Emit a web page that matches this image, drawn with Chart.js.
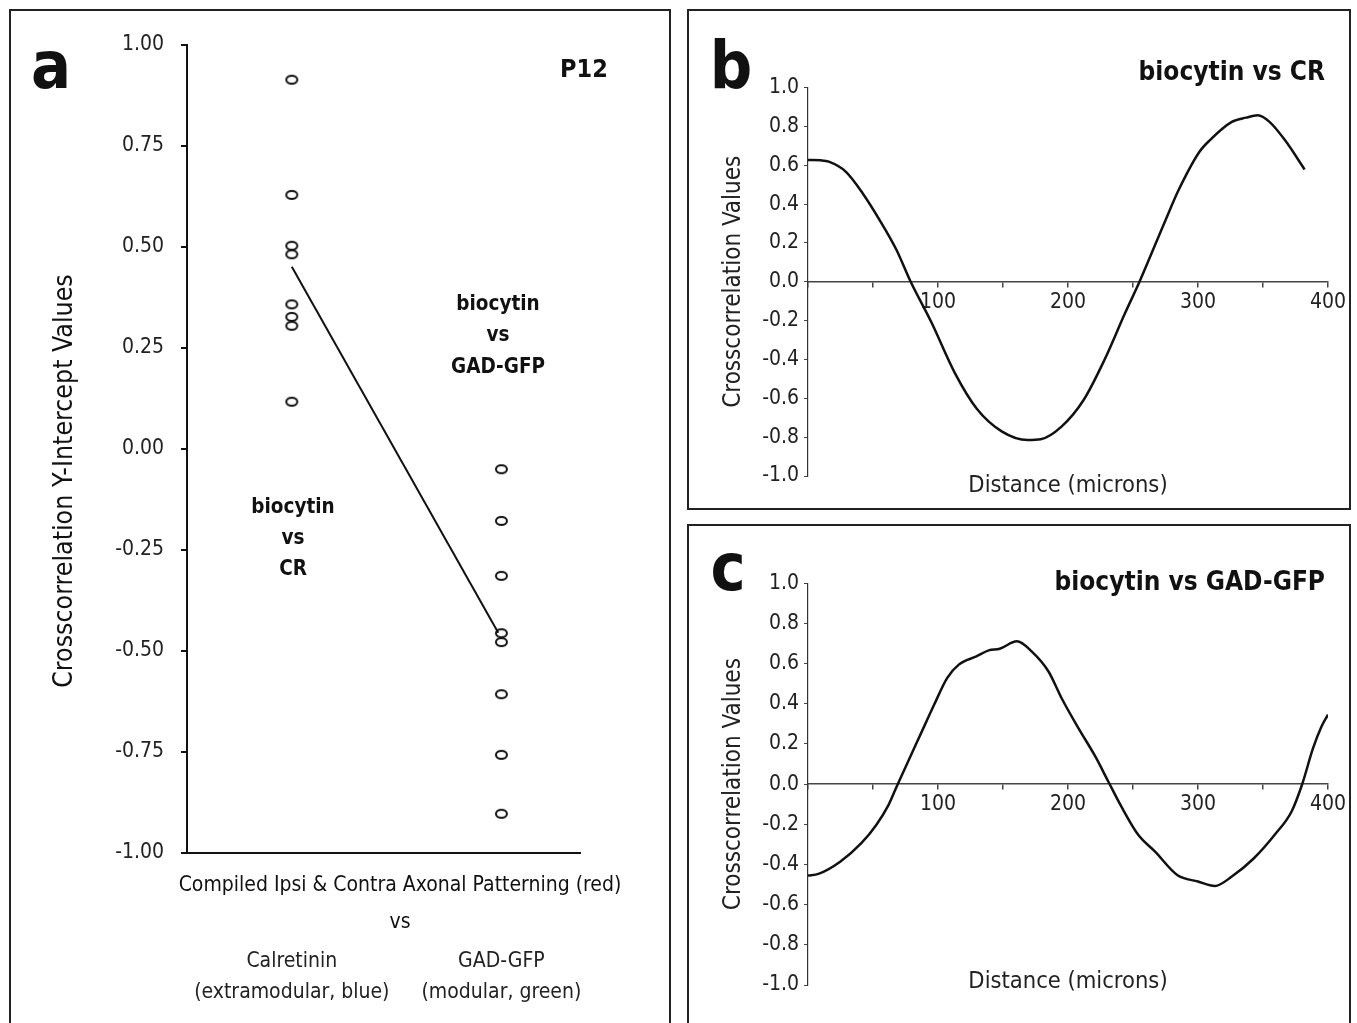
<!DOCTYPE html>
<html><head><meta charset="utf-8">
<script src="https://cdn.jsdelivr.net/npm/chart.js@4.4.0/dist/chart.umd.min.js"></script>
<style>
html,body{margin:0;padding:0;background:#fff;width:1357px;height:1023px;overflow:hidden;position:relative;}
.box{position:absolute;border:2px solid #222;box-sizing:border-box;}
canvas{position:absolute;}
</style></head><body>
<div class="box" style="left:9px;top:9px;width:662px;height:1040px"></div>
<div class="box" style="left:687px;top:9px;width:664px;height:501px"></div>
<div class="box" style="left:687px;top:524px;width:664px;height:520px"></div>
<canvas id="ca" width="680" height="1023" style="left:0;top:0"></canvas>
<canvas id="cb" width="677" height="515" style="left:680px;top:0"></canvas>
<canvas id="cc" width="677" height="508" style="left:680px;top:515px"></canvas>
<script>
const FONT = '"DejaVu Sans Condensed", "Liberation Sans Narrow", "Arial Narrow", sans-serif';
const INK = '#111';

// ---------- Panel a data ----------
const groupPositions = [1, 3];
const groupLabels = [["Calretinin", "(extramodular, blue)"], ["GAD-GFP", "(modular, green)"]];
const crIntercepts = [0.914, 0.629, 0.503, 0.482, 0.358, 0.327, 0.305, 0.117];
const gadIntercepts = [-0.050, -0.178, -0.314, -0.456, -0.478, -0.607, -0.757, -0.903];
const trendX = [1, 2.97];
const trendY = [0.451, -0.455];
const aYTicks = [-1, -0.75, -0.5, -0.25, 0, 0.25, 0.5, 0.75, 1];

// ---------- Panel b data (biocytin vs CR) ----------
const bDistance = [0, 10, 16, 29, 42, 55, 68, 79, 95, 113, 130, 149, 169, 179, 195, 212, 228, 244, 255, 275, 285, 301, 309, 326, 337, 346, 355, 367, 382];
const bValues = [0.627, 0.625, 0.618, 0.567, 0.456, 0.319, 0.165, 0.0, -0.21, -0.47, -0.655, -0.77, -0.815, -0.811, -0.746, -0.609, -0.403, -0.16, 0.0, 0.317, 0.471, 0.668, 0.728, 0.823, 0.845, 0.857, 0.823, 0.728, 0.578];

// ---------- Panel c data (biocytin vs GAD-GFP) ----------
const cDistance = [0, 8, 25, 41, 52.5, 62, 69, 77, 87, 97, 107, 116, 129.5, 139, 147.5, 160.7, 172, 185, 195, 208, 221, 231, 241, 254, 267, 284, 300, 313, 326, 343, 359, 372, 380, 388.5, 395, 400];
const cValues = [-0.455, -0.447, -0.385, -0.294, -0.203, -0.103, 0.0, 0.113, 0.254, 0.395, 0.528, 0.595, 0.636, 0.666, 0.674, 0.711, 0.661, 0.561, 0.429, 0.279, 0.138, 0.013, -0.111, -0.252, -0.336, -0.452, -0.485, -0.507, -0.46, -0.369, -0.252, -0.136, -0.003, 0.179, 0.287, 0.346];

const distTicks = [0, 50, 100, 150, 200, 250, 300, 350, 400];
const distLabels = ['', '', '100', '', '200', '', '300', '', '400'];
const corrTicks = [-1, -0.8, -0.6, -0.4, -0.2, 0, 0.2, 0.4, 0.6, 0.8, 1];

// ---------- helpers ----------
function ellipseMarker() {
  const c = document.createElement('canvas');
  c.width = 15; c.height = 12;
  const g = c.getContext('2d');
  g.lineWidth = 2; g.strokeStyle = INK;
  g.beginPath(); g.ellipse(7.5, 6, 5.5, 4, 0, 0, Math.PI * 2); g.stroke();
  return c;
}
const marker = ellipseMarker();

function textPlugin(items) {
  return {
    id: 'texts',
    afterDraw(chart) {
      const ctx = chart.ctx;
      items.forEach(t => {
        ctx.save();
        ctx.fillStyle = INK;
        ctx.font = (t.bold ? 'bold ' : '') + t.size + 'px ' + FONT;
        ctx.textAlign = t.align || 'center';
        ctx.textBaseline = t.baseline || 'middle';
        ctx.translate(t.x, t.y);
        if (t.rot) ctx.rotate(t.rot);
        ctx.fillText(t.text, 0, 0);
        ctx.restore();
      });
    }
  };
}

const common = {
  responsive: false, animation: false, events: [],
  plugins: { legend: { display: false }, tooltip: { enabled: false } }
};

// ---------- Panel a ----------
new Chart(document.getElementById('ca'), {
  type: 'scatter',
  data: {
    datasets: [
      { data: crIntercepts.map(v => ({ x: groupPositions[0], y: v })), pointStyle: marker, pointRadius: 6 },
      { data: gadIntercepts.map(v => ({ x: groupPositions[1], y: v })), pointStyle: marker, pointRadius: 6 },
      { type: 'line', data: trendX.map((x, i) => ({ x: x, y: trendY[i] })), borderColor: INK, borderWidth: 2, pointRadius: 0, fill: false, tension: 0 }
    ]
  },
  options: Object.assign({}, common, {
    layout: { padding: { left: 0, top: 45, right: 100, bottom: 0 } },
    scales: {
      x: {
        type: 'linear', min: 0, max: 3.75,
        afterBuildTicks: s => { s.ticks = groupPositions.map(v => ({ value: v })); },
        afterFit: s => { s.height = 170; s.paddingLeft = 0; s.paddingRight = 0; },
        grid: { display: false, drawTicks: false },
        border: { display: true, color: INK, width: 2 },
        ticks: {
          callback: v => { const i = groupPositions.indexOf(v); return i >= 0 ? groupLabels[i] : ''; },
          padding: 93, maxRotation: 0, minRotation: 0, autoSkip: false, color: '#222',
          font: { family: FONT, size: 21, lineHeight: 1.48 }
        }
      },
      y: {
        min: -1, max: 1,
        afterBuildTicks: s => { s.ticks = aYTicks.map(v => ({ value: v })); },
        afterFit: s => { s.width = 187; },
        grid: { drawOnChartArea: false, drawTicks: true, tickLength: 6, color: INK, lineWidth: 2 },
        border: { color: INK, width: 2 },
        ticks: { padding: 17, color: '#222', font: { family: FONT, size: 21 }, callback: v => v.toFixed(2) }
      }
    }
  }),
  plugins: [textPlugin([
    { text: 'a', x: 51, y: 88, size: 66, bold: true, baseline: 'alphabetic' },
    { text: 'P12', x: 584, y: 70, size: 25, bold: true },
    { text: 'biocytin', x: 498, y: 305, size: 20.5, bold: true },
    { text: 'vs', x: 498, y: 336, size: 20.5, bold: true },
    { text: 'GAD-GFP', x: 498, y: 368, size: 20.5, bold: true },
    { text: 'biocytin', x: 293, y: 508, size: 20.5, bold: true },
    { text: 'vs', x: 293, y: 539, size: 20.5, bold: true },
    { text: 'CR', x: 293, y: 570, size: 20.5, bold: true },
    { text: 'Compiled Ipsi & Contra Axonal Patterning (red)', x: 400, y: 886, size: 21 },
    { text: 'vs', x: 400, y: 923, size: 21 },
    { text: 'Crosscorrelation Y-Intercept Values', x: 65, y: 481, size: 26.5, rot: -Math.PI / 2 }
  ])]
});

// ---------- Panels b and c ----------
function corrChart(id, xs, ys, padTop, bottomH, titleBottomPad, texts) {
  return new Chart(document.getElementById(id), {
    type: 'line',
    data: {
      datasets: [{
        data: xs.map((x, i) => ({ x: x, y: ys[i] })),
        borderColor: INK, borderWidth: 2.5, pointRadius: 0, fill: false,
        cubicInterpolationMode: 'monotone'
      }]
    },
    options: Object.assign({}, common, {
      layout: { padding: { left: 0, top: padTop, right: 29, bottom: 0 } },
      scales: {
        x: {
          type: 'linear', min: 0, max: 400, position: { y: 0 },
          afterBuildTicks: s => { s.ticks = distTicks.map(v => ({ value: v })); },
          afterFit: s => { s.paddingLeft = 0; s.paddingRight = 0; },
          grid: { drawOnChartArea: false, drawTicks: true, tickLength: 5, color: '#444', lineWidth: 1.5 },
          border: { color: '#444', width: 1.5 },
          ticks: {
            callback: v => distLabels[distTicks.indexOf(v)],
            padding: 3, maxRotation: 0, minRotation: 0, autoSkip: false, color: '#222',
            font: { family: FONT, size: 21 }
          }
        },
        xt: {
          type: 'linear', position: 'bottom', min: 0, max: 400,
          afterFit: s => { s.height = bottomH; s.paddingLeft = 0; s.paddingRight = 0; },
          grid: { display: false, drawTicks: false },
          border: { display: false },
          ticks: { display: false },
          title: { display: true, text: 'Distance (microns)', color: '#222', font: { family: FONT, size: 23.5, lineHeight: 1.2 }, padding: { top: 0, bottom: titleBottomPad } }
        },
        y: {
          min: -1, max: 1,
          afterBuildTicks: s => { s.ticks = corrTicks.map(v => ({ value: v })); },
          afterFit: s => { s.width = 128; },
          grid: { drawOnChartArea: false, drawTicks: true, tickLength: 4, color: '#444', lineWidth: 1 },
          border: { color: '#333', width: 1.2 },
          ticks: { padding: 5, color: '#222', font: { family: FONT, size: 21 }, callback: v => (Math.abs(v) < 1e-9 ? 0 : v).toFixed(1) },
          title: { display: true, text: 'Crosscorrelation Values', color: '#222', font: { family: FONT, size: 24, lineHeight: 1.2 }, padding: { top: 39, bottom: 0 } }
        }
      }
    }),
    plugins: [textPlugin(texts)]
  });
}

corrChart('cb', bDistance, bValues, 87.5, 39, 15, [
  { text: 'b', x: 51, y: 88, size: 66, bold: true, baseline: 'alphabetic' },
  { text: 'biocytin vs CR', x: 645, y: 73, size: 26, bold: true, align: 'right' }
]);
corrChart('cc', cDistance, cValues, 68.3, 38, 27, [
  { text: 'c', x: 48, y: 75, size: 66, bold: true, baseline: 'alphabetic' },
  { text: 'biocytin vs GAD-GFP', x: 645, y: 68, size: 26, bold: true, align: 'right' }
]);
</script>
</body></html>
